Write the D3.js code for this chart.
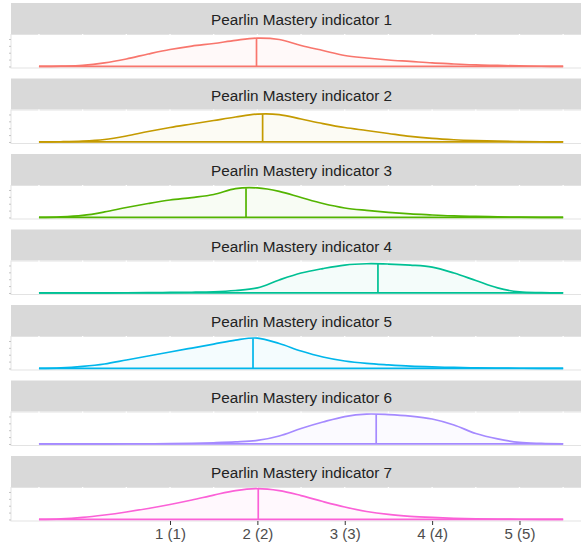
<!DOCTYPE html>
<html>
<head>
<meta charset="utf-8">
<script src="https://cdnjs.cloudflare.com/ajax/libs/d3/7.8.5/d3.min.js"></script>
<style>
body { margin: 0; background: #fff; }
svg { display: block; font-family: "Liberation Sans", Arial, sans-serif; }
</style>
</head>
<body>
<svg></svg>
<script>
const indicators = ['Pearlin Mastery indicator 1', 'Pearlin Mastery indicator 2', 'Pearlin Mastery indicator 3',
	'Pearlin Mastery indicator 4', 'Pearlin Mastery indicator 5', 'Pearlin Mastery indicator 6', 'Pearlin Mastery indicator 7'];

// density, one value per x point
const xPoints = [-0.5, -0.25, 0, 0.25, 0.5, 0.75, 1, 1.25, 1.5, 1.75, 2, 2.25, 2.5,
	2.75, 3, 3.25, 3.5, 3.75, 4, 4.25, 4.5, 4.75, 5, 5.25, 5.5];
const density1 = [0, .004, .015, .051, .109, .181, .247, .297, .334, .380, .413, .392, .305, .232, .160, .123, .094, .073, .051, .036, .022, .015, .007, .003, 0];
const density2 = [0, .003, .012, .036, .087, .152, .210, .261, .312, .363, .406, .399, .334, .268, .210, .167, .123, .080, .051, .032, .020, .012, .006, .003, 0];
const density3 = [0, .007, .029, .080, .145, .203, .254, .290, .334, .420, .430, .380, .290, .203, .138, .102, .073, .051, .036, .022, .015, .009, .004, .001, 0];
const density4 = [0, 0, 0, .001, .003, .004, .007, .010, .017, .036, .073, .189, .290, .355, .406, .425, .421, .406, .377, .290, .181, .073, .015, .004, 0];
const density5 = [0, .007, .029, .065, .123, .181, .239, .297, .355, .413, .442, .363, .254, .167, .109, .073, .051, .033, .022, .015, .009, .004, .003, .001, 0];
const density6 = [0, 0, .001, .001, .003, .003, .004, .009, .017, .029, .051, .116, .225, .319, .399, .435, .428, .406, .363, .276, .152, .073, .022, .007, 0];
const density7 = [0, .007, .029, .065, .109, .160, .218, .283, .355, .421, .450, .421, .348, .261, .181, .116, .073, .046, .029, .017, .010, .006, .003, .001, 0];
const means = [1.99, 2.06, 1.87, 3.38, 1.95, 3.36, 2.01];

const tickValues = [1, 2, 3, 4, 5];
const tickLabels = ['1 (1)', '2 (2)', '3 (3)', '4 (4)', '5 (5)'];
const colors = ['#F8766D', '#C49A00', '#53B400', '#00C094', '#00B6EB', '#A58AFF', '#FB61D7'];

var densities = [density1, density2, density3, density4, density5, density6, density7];

var svgWidth = 581;
var svgHeight = 552;
var marginLeft = 11;
var marginTop = 3;
var panelRight = 592;   // panel runs past the right edge of the picture
var stripHeight = 31;
var panelHeight = 34;
var facetStep = 75.5;

var svg = d3.select('svg')
			.attr('width', svgWidth)
			.attr('height', svgHeight);

var xScale = d3.scaleLinear()
				.domain([-0.82, 5.83])
				.range([marginLeft, panelRight]);

var yScale = d3.scaleLinear()
				.domain([-0.0225, 0.4725])
				.range([panelHeight, 0]);

var curve = d3.curveCatmullRom.alpha(0.5);

var area = d3.area()
			.x((d, i) => xScale(xPoints[i]))
			.y0(yScale(0))
			.y1(d => yScale(d))
			.curve(curve);

var line = d3.line()
			.x((d, i) => xScale(xPoints[i]))
			.y(d => yScale(d))
			.curve(curve);

// density height at the mean, linear between read points
function heightAt(vals, m) {
	var i = d3.bisectRight(xPoints, m) - 1;
	var t = (m - xPoints[i]) / (xPoints[i + 1] - xPoints[i]);
	return vals[i] + t * (vals[i + 1] - vals[i]);
}

var facets = svg.selectAll('g.facet')
				.data(indicators)
				.enter()
				.append('g')
				.attr('class', 'facet')
				.attr('transform', (d, i) => 'translate(0,' + (marginTop + i * facetStep) + ')');

facets.append('rect')
	.attr('x', marginLeft)
	.attr('y', 0)
	.attr('width', panelRight - marginLeft)
	.attr('height', stripHeight)
	.attr('fill', '#d9d9d9');

facets.append('text')
	.attr('x', (marginLeft + panelRight) / 2)
	.attr('y', stripHeight / 2 + 1)
	.attr('text-anchor', 'middle')
	.attr('dominant-baseline', 'central')
	.attr('font-size', '15.3px')
	.attr('fill', '#222')
	.text(d => d);

var panels = facets.append('g')
				.attr('transform', 'translate(0,' + stripHeight + ')');

panels.append('rect')
	.attr('x', marginLeft)
	.attr('y', 0.5)
	.attr('width', panelRight - marginLeft)
	.attr('height', panelHeight - 0.5)
	.attr('fill', '#fff')
	.attr('stroke', '#e3e3e3')
	.attr('stroke-width', 1);

panels.selectAll('line.grid')
	.data(xScale.ticks(14))
	.enter()
	.append('line')
	.attr('class', 'grid')
	.attr('x1', d => xScale(d))
	.attr('x2', d => xScale(d))
	.attr('y1', 0)
	.attr('y2', panelHeight - 1)
	.attr('stroke', '#fff')
	.attr('stroke-width', 1.3);

panels.each(function (d, i) {
	var g = d3.select(this);

	var yAxis = g.append('g')
				.attr('transform', 'translate(' + marginLeft + ',0)')
				.call(d3.axisLeft(yScale).tickValues([0, 0.1, 0.2, 0.3, 0.4]).tickSize(2).tickFormat(''));
	yAxis.select('.domain').remove();
	yAxis.selectAll('line').attr('stroke', '#c4c4c4');

	g.append('path')
		.datum(densities[i])
		.attr('d', area)
		.attr('fill', colors[i])
		.attr('fill-opacity', 0.045);

	g.append('path')
		.datum(densities[i])
		.attr('d', line)
		.attr('fill', 'none')
		.attr('stroke', colors[i])
		.attr('stroke-width', 1.7);

	g.append('line')
		.attr('x1', xScale(means[i]))
		.attr('x2', xScale(means[i]))
		.attr('y1', yScale(0))
		.attr('y2', yScale(heightAt(densities[i], means[i])))
		.attr('stroke', colors[i])
		.attr('stroke-width', 1.7);

	g.append('line')
		.attr('x1', xScale(xPoints[0]))
		.attr('x2', xScale(xPoints[xPoints.length - 1]))
		.attr('y1', yScale(0))
		.attr('y2', yScale(0))
		.attr('stroke', colors[i])
		.attr('stroke-width', 1.7);
});

var lastBottom = marginTop + (indicators.length - 1) * facetStep + stripHeight + panelHeight;

var xAxis = svg.append('g')
			.attr('transform', 'translate(0,' + lastBottom + ')')
			.call(d3.axisBottom(xScale)
				.tickValues(tickValues)
				.tickFormat((d, i) => tickLabels[i])
				.tickSize(4)
				.tickPadding(3));

xAxis.select('.domain').remove();
xAxis.selectAll('line').attr('stroke', '#333');
xAxis.selectAll('text')
	.attr('font-size', '15px')
	.attr('font-family', '"Liberation Sans", Arial, sans-serif')
	.attr('fill', '#4d4d4d');
</script>
</body>
</html>
